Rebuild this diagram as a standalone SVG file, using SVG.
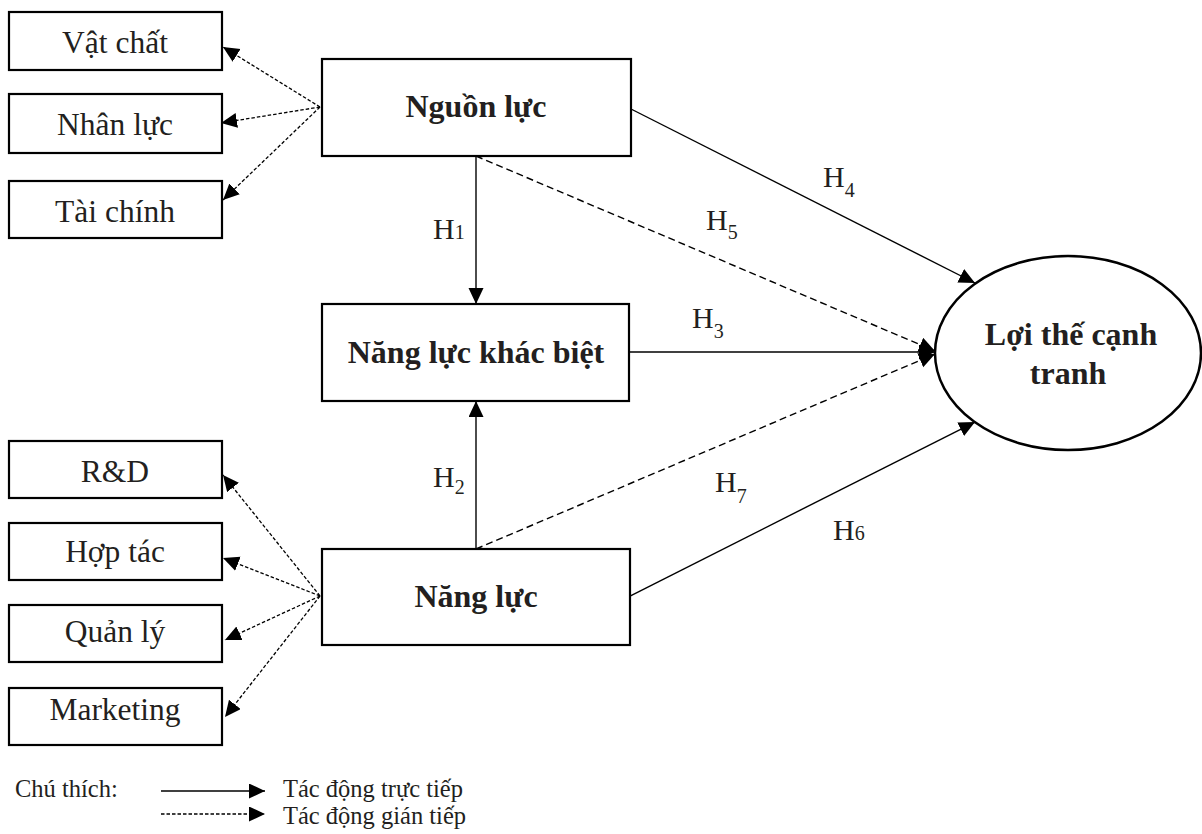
<svg xmlns="http://www.w3.org/2000/svg" width="1202" height="834" viewBox="0 0 1202 834">
<style>
.box{fill:#fff;stroke:#000;stroke-width:2.2}
.t{font-family:"Liberation Serif","Times New Roman",serif;font-size:31.5px;fill:#231f20;text-anchor:middle}
.b{font-family:"Liberation Serif","Times New Roman",serif;font-size:32px;font-weight:bold;fill:#231f20;text-anchor:middle}
.h{font-family:"Liberation Serif","Times New Roman",serif;font-size:30px;fill:#231f20}
.s{font-size:20px}
.lg{font-family:"Liberation Serif","Times New Roman",serif;font-size:24.5px;fill:#231f20}
.solid{stroke:#000;stroke-width:1.4;fill:none}
.dash{stroke:#000;stroke-width:1.4;fill:none;stroke-dasharray:7,4}
.fine{stroke:#000;stroke-width:1.3;fill:none;stroke-dasharray:3.5,2}
</style>
<defs>
<marker id="ah" markerUnits="userSpaceOnUse" markerWidth="18" markerHeight="16" refX="16" refY="7.5" orient="auto">
<path d="M0,0 L16,7.5 L0,15 z" fill="#000"/>
</marker>
</defs>
<rect width="1202" height="834" fill="#fff"/>

<g id="connectors">
<line class="fine" x1="320" y1="107" x2="223" y2="47" marker-end="url(#ah)"/>
<line class="fine" x1="320" y1="107" x2="221" y2="123" marker-end="url(#ah)"/>
<line class="fine" x1="320" y1="107" x2="223" y2="200" marker-end="url(#ah)"/>
<line class="fine" x1="320" y1="596" x2="223" y2="475" marker-end="url(#ah)"/>
<line class="fine" x1="320" y1="596" x2="223" y2="558" marker-end="url(#ah)"/>
<line class="fine" x1="320" y1="596" x2="225" y2="640" marker-end="url(#ah)"/>
<line class="fine" x1="320" y1="596" x2="225" y2="717" marker-end="url(#ah)"/>
<line class="solid" x1="476" y1="156" x2="476" y2="304" marker-end="url(#ah)"/>
<line class="solid" x1="476" y1="549" x2="476" y2="401" marker-end="url(#ah)"/>
<line class="solid" x1="631" y1="109" x2="975" y2="283" marker-end="url(#ah)"/>
<line class="dash" x1="476" y1="156" x2="935" y2="351" marker-end="url(#ah)"/>
<line class="solid" x1="629" y1="352" x2="935" y2="352" marker-end="url(#ah)"/>
<line class="dash" x1="476" y1="549" x2="935" y2="354" marker-end="url(#ah)"/>
<line class="solid" x1="630" y1="596" x2="975" y2="422" marker-end="url(#ah)"/>
</g>

<g id="labels">
<text class="h" x="433" y="239">H<tspan class="s">1</tspan></text>
<text class="h" x="433" y="487">H<tspan class="s" dy="7">2</tspan></text>
<text class="h" x="692" y="328">H<tspan class="s" dy="10">3</tspan></text>
<text class="h" x="823" y="187">H<tspan class="s" dy="10">4</tspan></text>
<text class="h" x="706" y="230">H<tspan class="s" dy="9">5</tspan></text>
<text class="h" x="833" y="540">H<tspan class="s">6</tspan></text>
<text class="h" x="715" y="492">H<tspan class="s" dy="11">7</tspan></text>
</g>

<g id="n-vatchat"><rect class="box" x="9" y="12" width="213" height="58"/><text class="t" x="115" y="53">Vật chất</text></g>
<g id="n-nhanluc"><rect class="box" x="9" y="94" width="213" height="59"/><text class="t" x="115" y="135">Nhân lực</text></g>
<g id="n-taichinh"><rect class="box" x="9" y="181" width="213" height="57"/><text class="t" x="115" y="222">Tài chính</text></g>

<g id="n-rd"><rect class="box" x="9" y="441" width="213" height="57"/><text class="t" x="115" y="482">R&amp;D</text></g>
<g id="n-hoptac"><rect class="box" x="9" y="523" width="213" height="57"/><text class="t" x="115" y="562">Hợp tác</text></g>
<g id="n-quanly"><rect class="box" x="9" y="605" width="213" height="57"/><text class="t" x="115" y="642">Quản lý</text></g>
<g id="n-marketing"><rect class="box" x="9" y="688" width="213" height="57"/><text class="t" x="115" y="720">Marketing</text></g>

<g id="n-nguonluc"><rect class="box" x="322" y="59" width="309" height="97"/><text class="b" x="476" y="117">Nguồn lực</text></g>
<g id="n-nangluckhacbiet"><rect class="box" x="322" y="304" width="307" height="97"/><text class="b" x="476" y="363">Năng lực khác biệt</text></g>
<g id="n-nangluc"><rect class="box" x="322" y="549" width="308" height="96"/><text class="b" x="476" y="607">Năng lực</text></g>

<g id="n-loithe"><ellipse cx="1068" cy="353" rx="133" ry="97" fill="#fff" stroke="#000" stroke-width="2.5"/>
<text class="b" x="1071" y="345">Lợi thế cạnh</text><text class="b" x="1068" y="384">tranh</text></g>

<g id="legend">
<text class="lg" x="15" y="797">Chú thích:</text>
<line class="solid" x1="161" y1="791" x2="265" y2="791" marker-end="url(#ah)"/>
<line class="fine" x1="161" y1="814" x2="265" y2="814" marker-end="url(#ah)"/>
<text class="lg" x="283" y="797">Tác động trực tiếp</text>
<text class="lg" x="283" y="824">Tác động gián tiếp</text>
</g>
</svg>
